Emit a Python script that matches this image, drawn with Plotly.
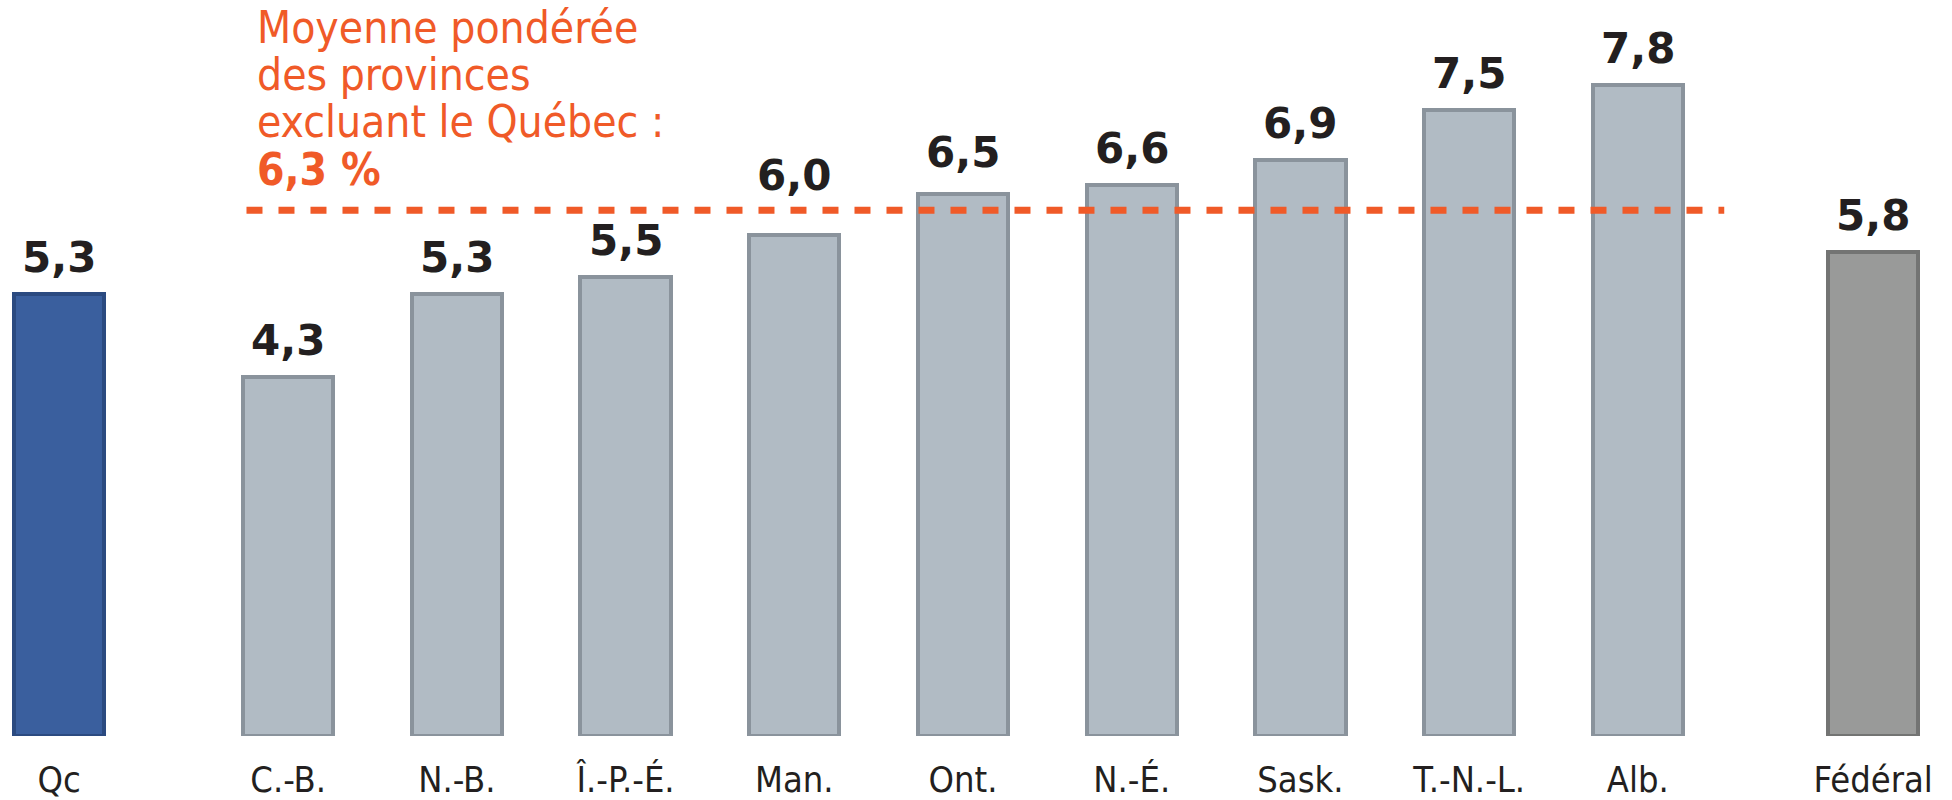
import plotly.graph_objects as go

categories = ["Qc", "C.-B.", "N.-B.", "Î.-P.-É.", "Man.", "Ont.", "N.-É.", "Sask.", "T.-N.-L.", "Alb.", "Fédéral"]
values = [5.3, 4.3, 5.3, 5.5, 6.0, 6.5, 6.6, 6.9, 7.5, 7.8, 5.8]
value_labels = ["5,3", "4,3", "5,3", "5,5", "6,0", "6,5", "6,6", "6,9", "7,5", "7,8", "5,8"]
positions = [0, 1.358, 2.358, 3.358, 4.358, 5.358, 6.358, 7.358, 8.358, 9.358, 10.753]
average_value = 6.3
average_label_lines = ["Moyenne pondérée", "des provinces", "excluant le Québec :"]
average_value_label = "6,3 %"

fills = ["#3a5f9e"] + ["#b1bbc4"] * 9 + ["#999a99"]
borders = ["#2b4a80"] + ["#8a939c"] * 9 + ["#737473"]
# extra vertical nudge (px) of value labels to keep them clear of the dashed line
label_nudge = [0, 0, 0, 0, 23, 5, 0, 0, 0, 0, 0]

ORANGE = "#f05a28"
BAR_W = 0.535
W, H = 1952, 800
MB = 59
PLOT_H = H - MB
X_RANGE = [-0.350, 11.22]
Y_RANGE = [0, 8.82]

fig = go.Figure()
fig.add_trace(go.Bar(
    x=positions, y=values, width=BAR_W,
    marker=dict(color=fills, line=dict(color=borders, width=4)),
    hoverinfo="skip", showlegend=False,
))

# dashed average line
fig.add_trace(go.Scatter(
    x=[1.111, 9.87], y=[average_value, average_value], mode="lines",
    line=dict(color=ORANGE, width=7, dash="16px,16px"),
    hoverinfo="skip", showlegend=False,
))

for xp, v, lab, nd in zip(positions, values, value_labels, label_nudge):
    fig.add_annotation(
        x=xp, y=v, text=lab, showarrow=False, yanchor="bottom", yshift=10 + nd,
        font=dict(family="DejaVu Sans", size=42, color="#231f20", weight="bold"),
    )

TXT_FONT = "Liberation Sans Narrow, DejaVu Sans Condensed, sans-serif"
line_texts = average_label_lines + ["<b>" + average_value_label + "</b>"]
line_centers_px = [27.4, 75.0, 122.7, 170.7]
for t, cy in zip(line_texts, line_centers_px):
    fig.add_annotation(
        x=1.16, xref="x", y=(PLOT_H - cy) / PLOT_H, yref="paper",
        xanchor="left", yanchor="middle", align="left",
        text=t, showarrow=False,
        font=dict(family=TXT_FONT, size=44, color=ORANGE),
    )

fig.update_layout(
    width=W, height=H,
    margin=dict(l=0, r=0, t=0, b=MB),
    plot_bgcolor="white", paper_bgcolor="white",
    bargap=0,
    xaxis=dict(range=X_RANGE, tickvals=positions, ticktext=categories, showgrid=False,
               zeroline=False, showline=False, ticks="", ticklabelstandoff=19,
               tickfont=dict(family=TXT_FONT, size=36, color="#231f20")),
    yaxis=dict(range=Y_RANGE, visible=False, showgrid=False, zeroline=False),
)

fig.write_html("out.html", config={"displayModeBar": False},
               post_script="document.body.style.margin='0';document.body.style.overflow='hidden';")
